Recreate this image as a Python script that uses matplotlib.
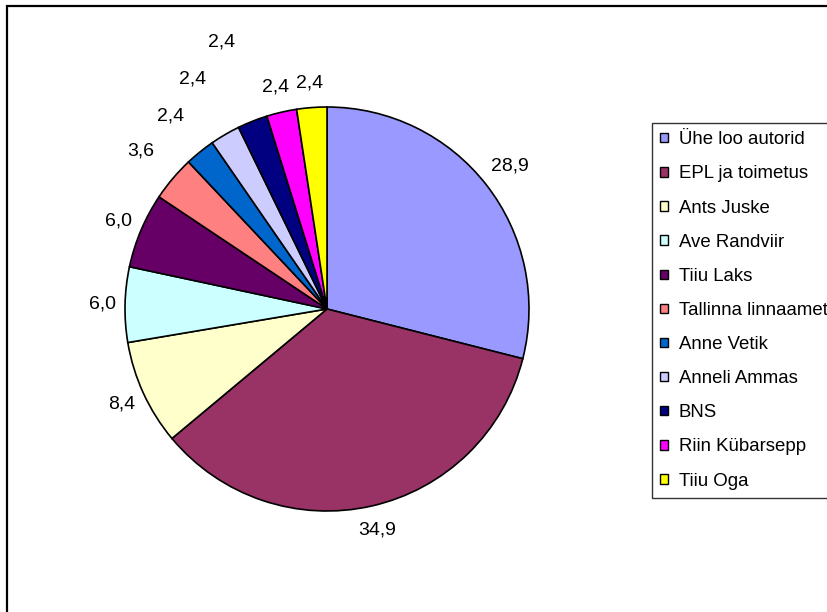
import matplotlib.pyplot as plt
from matplotlib.patches import Rectangle, Patch
import numpy as np

# Data
names = ["Ühe loo autorid", "EPL ja toimetus", "Ants Juske", "Ave Randviir",
         "Tiiu Laks", "Tallinna linnaamet", "Anne Vetik", "Anneli Ammas",
         "BNS", "Riin Kübarsepp", "Tiiu Oga"]
values = [28.9, 34.9, 8.4, 6.0, 6.0, 3.6, 2.4, 2.4, 2.4, 2.4, 2.4]

# Style
colors = ["#9999FF", "#993366", "#FFFFCC", "#CCFFFF", "#660066", "#FF8080",
          "#0066CC", "#CCCCFF", "#000080", "#FF00FF", "#FFFF00"]
label_dist = [1.15, 1.12, 1.12, 1.11, 1.12, 1.21, 1.23, 1.32, 1.42, 1.13, 1.12]

plt.rcParams['font.family'] = ['Liberation Sans', 'DejaVu Sans']
W, H = 828, 612
fig = plt.figure(figsize=(W / 100, H / 100), dpi=100)

# outer chart frame (right/bottom edges fall outside the picture)
fig.patches.append(Rectangle((7.5 / W, -0.1), 1.2, 1 - 5.5 / H + 0.1, fill=False,
                             edgecolor="black", linewidth=1.6,
                             transform=fig.transFigure, figure=fig))

cx, cy, r = 327, 309, 202
ax = fig.add_axes([(cx - r) / W, (H - cy - r) / H, 2 * r / W, 2 * r / H])
wedges, _ = ax.pie(values, colors=colors, startangle=90, counterclock=False,
                   wedgeprops=dict(edgecolor="black", linewidth=1.2))
ax.set_xlim(-1, 1)
ax.set_ylim(-1, 1)
ax.axis("off")

for w, v, d in zip(wedges, values, label_dist):
    ang = np.deg2rad((w.theta1 + w.theta2) / 2)
    ax.text(d * np.cos(ang), d * np.sin(ang), f"{v:.1f}".replace(".", ","),
            ha="center", va="center", fontsize=14, clip_on=False)

handles = [Patch(facecolor=c, edgecolor="black", linewidth=1.0) for c in colors]
leg = fig.legend(handles, names, loc="upper left",
                 bbox_to_anchor=(652 / W, 1 - 123 / H), borderaxespad=0,
                 fontsize=13.4, frameon=True, fancybox=False,
                 handlelength=0.4, handleheight=0.4, handletextpad=0.6,
                 borderpad=0.45, labelspacing=0.92)
leg.get_frame().set_edgecolor("black")
leg.get_frame().set_linewidth(1.0)

fig.savefig("out.png", dpi=100)
plt.close()
